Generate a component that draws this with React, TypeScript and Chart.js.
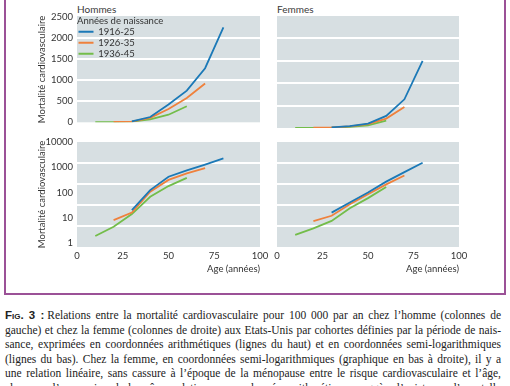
import React, { useEffect, useRef } from "react";
import { Chart, registerables } from "chart.js";

Chart.register(...registerables);

// ---------- data ----------
const cohorts = ["1916-25", "1926-35", "1936-45"];
const cohortColors = ["rgb(27,121,183)", "rgb(239,129,60)", "rgb(115,189,74)"];

const agesBlue = [30, 40, 50, 60, 70, 80];
const agesOrange = [20, 30, 40, 50, 60, 70];
const agesGreen = [10, 20, 30, 40, 50, 60];

const menBlue = [20, 125, 420, 750, 1280, 2250];
const menOrange = [8, 16, 107, 315, 575, 920];
const menGreen = [1.9, 4.4, 14, 68, 180, 380];

const womenBlue = [16, 40, 100, 270, 640, 1500];
const womenOrange = [7.4, 12, 34, 85, 210, 470];
const womenGreen = [2.1, 3.8, 7.5, 24, 60, 165];

const xTicks = [0, 25, 50, 75, 100];
const linTicks = [0, 500, 1000, 1500, 2000, 2500];
const logTicks = [1, 10, 100, 1000, 10000];

const panelTitles = ["Hommes", "Femmes"];
const yTitle = "Mortalité cardiovasculaire";
const xTitle = "Age (années)";
const legendTitle = "Années de naissance";

const captionLabel = "Fig. 3 :";
const captionLines = [
  "Relations entre la mortalité cardiovasculaire pour 100 000 par an chez l’homme (colonnes de",
  "gauche) et chez la femme (colonnes de droite) aux Etats-Unis par cohortes définies par la période de nais-",
  "sance, exprimées en coordonnées arithmétiques (lignes du haut) et en coordonnées semi-logarithmiques",
  "(lignes du bas). Chez la femme, en coordonnées semi-logarithmiques (graphique en bas à droite), il y a",
  "une relation linéaire, sans cassure à l’époque de la ménopause entre le risque cardiovasculaire et l’âge,",
  "alors que l’expression de la même relation en coordonnées arithmétiques suggère l’existence d’une telle",
];

// ---------- styling ----------
const FONT = "Lato, 'Liberation Sans', sans-serif";
const TXT = "#333";
const PANEL_BG = "#d7dfe2";

// paints the grey panel with its white bands *behind* everything already drawn
const panelBg = {
  id: "panelBg",
  afterDraw(chart: any) {
    const { ctx, chartArea: a } = chart;
    if (!a) return;
    ctx.save();
    ctx.globalCompositeOperation = "destination-over";
    ctx.strokeStyle = "#ffffff";
    ctx.lineWidth = 2;
    const h = a.bottom - a.top;
    for (let i = 1; i < 5; i++) {
      const y = Math.round(a.top + (h * i) / 5);
      ctx.beginPath();
      ctx.moveTo(a.left, y);
      ctx.lineTo(a.right, y);
      ctx.stroke();
    }
    ctx.fillStyle = PANEL_BG;
    ctx.fillRect(a.left, a.top, a.right - a.left, a.bottom - a.top);
    ctx.restore();
  },
};

function buildDatasets(values: number[][]) {
  const ages = [agesBlue, agesOrange, agesGreen];
  return cohorts.map((c, i) => ({
    label: c,
    data: ages[i].map((a, j) => ({ x: a, y: values[i][j] })),
    borderColor: cohortColors[i],
    backgroundColor: cohortColors[i],
    borderWidth: 1.8,
    pointRadius: 0,
    tension: 0,
    fill: false,
  }));
}

type PanelOpts = {
  values: number[][];
  log: boolean;
  left: boolean;
  bottom: boolean;
  legend: boolean;
};

function makeConfig(o: PanelOpts): any {
  const yScale: any = {
    type: o.log ? "logarithmic" : "linear",
    min: o.log ? 0.695 : 0,
    max: o.log ? 10000 : 2500,
    display: o.left,
    grid: { display: false, drawTicks: false },
    border: { display: false },
    afterBuildTicks: (s: any) => {
      s.ticks = (o.log ? logTicks : linTicks).map((v) => ({ value: v }));
    },
    ticks: {
      font: { family: FONT, size: 9.5 },
      color: TXT,
      padding: 4,
      autoSkip: false,
      callback: (v: any) => String(v),
    },
    title: {
      display: true,
      text: yTitle,
      font: { family: FONT, size: 9.5 },
      color: TXT,
      padding: { top: 4, bottom: 0 },
    },
    afterFit: (s: any) => {
      s.width = o.left ? 45 : 0;
    },
  };
  const xScale: any = {
    type: "linear",
    min: 0,
    max: 100,
    display: o.bottom,
    grid: { display: false, drawTicks: false },
    border: { display: false },
    afterBuildTicks: (s: any) => {
      s.ticks = xTicks.map((v) => ({ value: v }));
    },
    ticks: {
      font: { family: FONT, size: 9.5 },
      color: TXT,
      padding: 3,
      maxRotation: 0,
      autoSkip: false,
    },
    title: {
      display: true,
      text: xTitle,
      align: "end",
      font: { family: FONT, size: 9.5 },
      color: TXT,
      padding: { top: 0, bottom: 3 },
    },
    afterFit: (s: any) => {
      s.height = o.bottom ? 31 : 0;
    },
  };
  return {
    type: "line",
    data: { datasets: buildDatasets(o.values) },
    options: {
      responsive: false,
      animation: false,
      events: [],
      layout: {
        padding: {
          top: o.bottom ? 12 : 9,
          bottom: o.bottom ? 0 : 4,
          left: o.left ? 0 : 12,
          right: o.left ? 12 : 16,
        },
      },
      scales: { x: xScale, y: yScale },
      plugins: {
        tooltip: { enabled: false },
        legend: o.legend
          ? {
              display: true,
              position: "chartArea",
              align: "start",
              title: {
                display: true,
                text: legendTitle,
                position: "start",
                color: TXT,
                font: { family: FONT, size: 9.5, lineHeight: 1 },
                padding: { top: 9, bottom: 0 },
              },
              labels: {
                usePointStyle: true,
                pointStyle: "line",
                pointStyleWidth: 15,
                color: TXT,
                padding: 1.5,
                font: { family: FONT, size: 9.5 },
              },
            }
          : { display: false },
      },
    },
    plugins: [panelBg],
  };
}

function Panel(props: { x: number; y: number; w: number; h: number; opts: PanelOpts }) {
  const ref = useRef<HTMLCanvasElement>(null);
  useEffect(() => {
    const chart = new Chart(ref.current as HTMLCanvasElement, makeConfig(props.opts));
    return () => chart.destroy();
  }, []);
  return (
    <canvas
      ref={ref}
      width={props.w}
      height={props.h}
      style={{ position: "absolute", left: props.x, top: props.y, width: props.w, height: props.h }}
    />
  );
}

// fallback panel backdrop (grey with white band separators) for the upper row
function UpperBackdrop(props: { left: number; width: number }) {
  const top = 16;
  const height = 105;
  return (
    <div style={{ position: "absolute", left: props.left, top, width: props.width, height, background: PANEL_BG }}>
      {[1, 2, 3, 4].map((i) => (
        <div
          key={i}
          style={{
            position: "absolute",
            left: 0,
            width: props.width,
            top: Math.round((height * i) / 5) - 1,
            height: 2,
            background: "#fff",
          }}
        />
      ))}
    </div>
  );
}

export default function App() {
  const men = [menBlue, menOrange, menGreen];
  const women = [womenBlue, womenOrange, womenGreen];
  return (
    <div
      style={{
        position: "fixed",
        left: 0,
        top: 0,
        width: 510,
        height: 386,
        overflow: "hidden",
        background: "#fff",
      }}
    >
      <div
        style={{
          position: "absolute",
          left: 4,
          top: -10,
          width: 502,
          height: 305,
          boxSizing: "border-box",
          borderLeft: "2px solid #9b5197",
          borderRight: "2px solid #9b5197",
          borderBottom: "2px solid #9b5197",
        }}
      />
      <UpperBackdrop left={77} width={183} />
      <UpperBackdrop left={277} width={182} />
      <div style={{ position: "absolute", left: 77, top: 3, font: `10px ${FONT}`, color: "#3a3a3a" }}>
        {panelTitles[0]}
      </div>
      <div style={{ position: "absolute", left: 277, top: 3, font: `10px ${FONT}`, color: "#3a3a3a" }}>
        {panelTitles[1]}
      </div>
      <Panel x={32} y={7} w={240} h={125} opts={{ values: men, log: false, left: true, bottom: false, legend: true }} />
      <Panel x={265} y={7} w={210} h={125} opts={{ values: women, log: false, left: false, bottom: false, legend: false }} />
      <Panel x={32} y={130} w={240} h={148} opts={{ values: men, log: true, left: true, bottom: true, legend: false }} />
      <Panel x={265} y={130} w={210} h={148} opts={{ values: women, log: true, left: false, bottom: true, legend: false }} />
      <div
        style={{
          position: "absolute",
          left: 5,
          top: 308,
          width: 496,
          font: "11.5px 'Liberation Serif', serif",
          lineHeight: "14.5px",
          color: "#222",
        }}
      >
        {captionLines.map((line, i) => (
          <div
            key={i}
            style={{ whiteSpace: "nowrap", textAlign: "justify", textAlignLast: "justify", height: 14.5 }}
          >
            {i === 0 ? (
              <span
                style={{
                  fontFamily: "'Liberation Sans', sans-serif",
                  fontWeight: "bold",
                  fontVariant: "small-caps",
                  marginRight: 3,
                }}
              >
                {captionLabel}
              </span>
            ) : null}
            {line}
          </div>
        ))}
      </div>
    </div>
  );
}
